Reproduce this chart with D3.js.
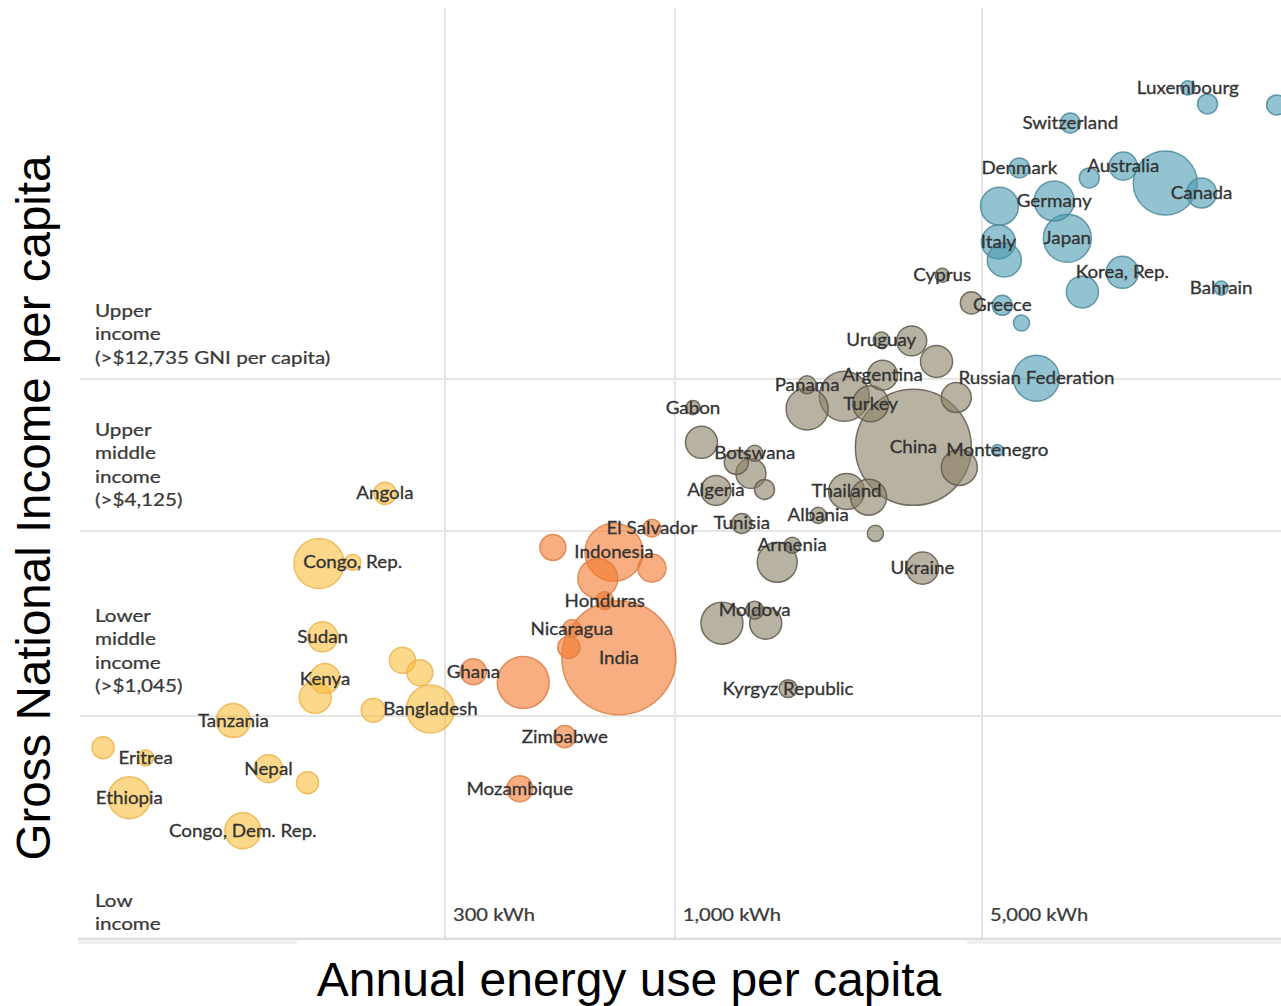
<!DOCTYPE html>
<html>
<head>
<meta charset="utf-8">
<script src="https://cdn.jsdelivr.net/npm/d3@7"></script>
<style>
  html, body { margin: 0; padding: 0; background: #fff; }
  svg { display: block; }
</style>
</head>
<body>
<svg id="chart" width="1281" height="1006"></svg>
<script>
// ---------- DATA ----------
const countries = [
  "Luxembourg","Norway","Iceland","Switzerland","Denmark","Australia","Sweden","United States","Canada","France",
  "Germany","Italy","United Kingdom","Japan","Korea, Rep.","Spain","Bahrain","Greece","Slovenia","Russian Federation",
  "Montenegro","Cyprus","Chile","Uruguay","Venezuela","Malaysia","Argentina","Panama","Mexico","Brazil",
  "Turkey","Kazakhstan","China","Iran","Gabon","Colombia","Peru","Botswana","South Africa","Jordan",
  "Algeria","Tunisia","Thailand","Iraq","Albania","Turkmenistan","Armenia","Egypt","Ukraine","Uzbekistan",
  "Moldova","Georgia","Kyrgyz Republic","El Salvador","Guatemala","Indonesia","Philippines","Morocco","Honduras","Nicaragua",
  "Bolivia","India","Ghana","Pakistan","Zimbabwe","Mozambique","Angola","Nigeria","Congo, Rep.","Sudan",
  "Kenya","Cameroon","Cote d'Ivoire","Senegal","Bangladesh","Yemen","Tanzania","Haiti","Eritrea","Ethiopia",
  "Nepal","Benin","Congo, Dem. Rep."
];
// annual energy use per capita (kWh)
const energyUse = [
  14700,16300,23400,7940,6080,10480,8770,13060,15800,5480,
  7300,5450,5620,7820,10430,8460,17500,5560,6150,6650,
  5420,4060,4730,2950,3460,3940,2970,2000,2000,2430,
  2790,4370,3490,4440,1100,1150,1380,1520,1490,1600,
  1240,1420,2460,2760,2120,2860,1850,1710,3660,1280,
  1520,1610,1810,887,528,727,668,887,693,583,
  574,746,348,452,562,444,219,155,185,158,
  160,152,240,263,278,206,99,50,62.5,57.4,
  119,146,104
];
// gross national income per capita (US$)
const gniPerCapita = [
  110400,98000,97300,85100,61000,61800,56600,54500,50600,45900,
  47700,35200,30800,36200,28100,24300,25000,22000,19300,12800,
  7500,27500,22400,17000,16900,14500,13100,12200,10200,11200,
  10600,11100,7670,6610,10300,7960,6860,7340,6320,5610,
  5570,4360,5530,5300,4630,4050,3710,3270,3130,2080,
  2290,2080,1280,4210,3650,3520,2900,3130,2460,2000,
  1740,1610,1450,1340,897,609,5450,3240,3270,1880,
  1380,1200,1580,1440,1100,1090,1010,826,767,570,
  707,637,446
];
// population (millions) – bubble size
const population = [
  20,40,40,40,40,79,40,411,90,145,
  160,116,116,231,103,103,20,40,26,212,
  14,20,49,26,90,103,90,32,177,251,
  130,90,1350,130,20,103,58,26,90,40,
  90,40,130,130,26,26,26,160,103,177,
  32,103,32,32,68,337,160,79,32,32,
  49,1304,68,271,49,68,49,251,26,90,
  90,103,68,68,231,58,116,49,26,177,
  79,49,130
];
// colour group
const group = [
  "high","high","high","high","high","high","high","high","high","high",
  "high","high","high","high","high","high","high","high","high","high",
  "high","umid","umid","umid","umid","umid","umid","umid","umid","umid",
  "umid","umid","umid","umid","umid","umid","umid","umid","umid","umid",
  "umid","umid","umid","umid","umid","umid","umid","umid","umid","umid",
  "umid","umid","umid","lmid","lmid","lmid","lmid","lmid","lmid","lmid",
  "lmid","lmid","lmid","lmid","lmid","lmid","low","low","low","low",
  "low","low","low","low","low","low","low","low","low","low",
  "low","low","low"
];
// countries whose names are printed
const labelled = [
  "Luxembourg","Switzerland","Denmark","Australia","Canada","Germany","Italy","Japan","Korea, Rep.","Bahrain",
  "Greece","Cyprus","Uruguay","Argentina","Russian Federation","Panama","Turkey","Gabon","China","Montenegro",
  "Botswana","Algeria","Thailand","Tunisia","Albania","El Salvador","Armenia","Indonesia","Ukraine","Honduras",
  "Moldova","Nicaragua","India","Ghana","Kyrgyz Republic","Zimbabwe","Mozambique","Angola","Congo, Rep.","Sudan",
  "Kenya","Bangladesh","Tanzania","Eritrea","Nepal","Ethiopia","Congo, Dem. Rep."
];
// x-axis ticks (kWh)
const energyTicks = [300, 1000, 5000];
const energyTickLabels = ["300 kWh", "1,000 kWh", "5,000 kWh"];
// income thresholds (GNI per capita)
const incomeThresholds = [1045, 4125, 12735];
const incomeBandLabels = [
  ["Low", "income"],
  ["Lower", "middle", "income", "(>$1,045)"],
  ["Upper", "middle", "income", "(>$4,125)"],
  ["Upper", "income", "(>$12,735 GNI per capita)"]
];
const incomeFloor = 200;

// ---------- STYLE ----------
const groupFill   = { low: "#fabe3c", lmid: "#f3782b", umid: "#897f64", high: "#4b9bb1" };
const groupStroke = { low: "#eeb450", lmid: "#dc8048", umid: "#5f5a4c", high: "#4d8b9c" };

const svg = d3.select("#chart");
const plotLeft = 80, plotRight = 1281, plotTop = 8;

const x = d3.scaleLog().domain([300, 5000]).range([445, 982]);
const y = d3.scaleLog().domain([1045, 12735]).range([716, 379]);
const r = d3.scaleSqrt().domain([0, 1350]).range([0, 58]);
const yBottom = y(incomeFloor);

const labelFont = "Lato, 'Open Sans', sans-serif";
const textColor = "#3a3a3a";

// clip
svg.append("defs").append("clipPath").attr("id", "plotclip")
  .append("rect").attr("x", plotLeft - 10).attr("y", 0).attr("width", plotRight - plotLeft + 10).attr("height", yBottom);

// vertical gridlines
svg.append("g").selectAll("line").data(energyTicks).join("line")
  .attr("x1", d => x(d)).attr("x2", d => x(d))
  .attr("y1", plotTop).attr("y2", yBottom)
  .attr("stroke", "#e4e4e4").attr("stroke-width", 2);

// horizontal threshold lines
svg.append("g").selectAll("line").data(incomeThresholds).join("line")
  .attr("x1", plotLeft).attr("x2", plotRight)
  .attr("y1", d => y(d)).attr("y2", d => y(d))
  .attr("stroke", "#e6e6e6").attr("stroke-width", 2);

// bottom baseline with soft shadow
svg.append("line").attr("x1", plotLeft - 2).attr("x2", plotRight)
  .attr("y1", yBottom + 3).attr("y2", yBottom + 3)
  .attr("stroke", "#f0f0f0").attr("stroke-width", 5);
svg.append("line").attr("x1", plotLeft - 2).attr("x2", plotRight)
  .attr("y1", yBottom).attr("y2", yBottom)
  .attr("stroke", "#dcdcdc").attr("stroke-width", 2);
svg.append("rect").attr("x", 297).attr("y", yBottom + 1.5).attr("width", 670).attr("height", 8).attr("fill", "#fff");

// x tick labels
svg.append("g").selectAll("text").data(energyTicks).join("text")
  .attr("transform", d => `translate(${x(d) + 8},921) scale(1.15,1)`)
  .attr("font-family", labelFont).attr("font-size", 17.5).attr("fill", textColor)
  .attr("stroke", textColor).attr("stroke-width", 0.25)
  .text((d, i) => energyTickLabels[i]);

// income band labels
const bandBase = [907, 622, 436, 317];
incomeBandLabels.forEach((lines, bi) => {
  const t = svg.append("text")
    .attr("transform", `translate(95,${bandBase[bi]}) scale(1.18,1)`)
    .attr("font-family", labelFont).attr("font-size", 17.5).attr("fill", textColor)
    .attr("stroke", textColor).attr("stroke-width", 0.25);
  lines.forEach((ln, li) => {
    t.append("tspan").attr("x", 0).attr("y", li * 23.4).text(ln);
  });
});

// bubbles
const data = countries.map((c, i) => ({
  name: c, energy: energyUse[i], gni: gniPerCapita[i], pop: population[i], group: group[i]
}));
const sorted = data.slice().sort((a, b) => b.pop - a.pop);

svg.append("g").attr("clip-path", "url(#plotclip)")
  .selectAll("circle").data(sorted).join("circle")
  .attr("cx", d => x(d.energy))
  .attr("cy", d => y(d.gni))
  .attr("r", d => r(d.pop))
  .attr("fill", d => groupFill[d.group])
  .attr("fill-opacity", 0.6)
  .attr("stroke", d => groupStroke[d.group])
  .attr("stroke-opacity", 0.85)
  .attr("stroke-width", 1.5);

// labels
svg.append("g").selectAll("text").data(data.filter(d => labelled.includes(d.name))).join("text")
  .attr("transform", d => `translate(${x(d.energy)},${y(d.gni) + 6}) scale(1.045,1)`)
  .attr("text-anchor", "middle")
  .attr("font-family", labelFont).attr("font-size", 18).attr("fill", "#333")
  .attr("stroke", "#333").attr("stroke-width", 0.3)
  .text(d => d.name);

// axis titles
svg.append("text").attr("x", 629).attr("y", 996).attr("text-anchor", "middle")
  .attr("font-family", "'Liberation Sans', Arial, sans-serif").attr("font-size", 48).attr("fill", "#000")
  .text("Annual energy use per capita");
svg.append("text").attr("transform", "translate(50,508) rotate(-90)").attr("text-anchor", "middle")
  .attr("font-family", "'Liberation Sans', Arial, sans-serif").attr("font-size", 47.5).attr("fill", "#000")
  .text("Gross National Income per capita");
</script>
</body>
</html>
